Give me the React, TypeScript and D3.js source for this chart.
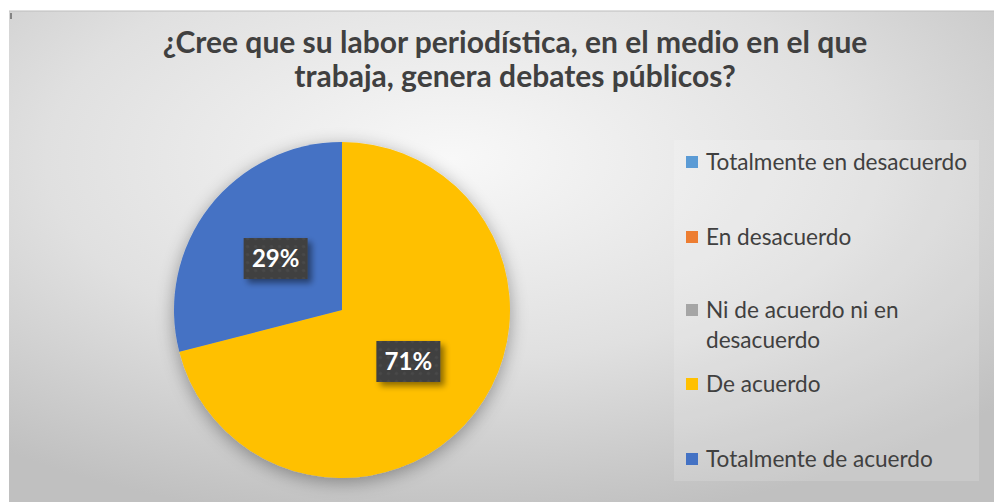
import React from "react";
import * as d3 from "d3";

const categories = [
  "Totalmente en desacuerdo",
  "En desacuerdo",
  "Ni de acuerdo ni en desacuerdo",
  "De acuerdo",
  "Totalmente de acuerdo",
];
const values = [0, 0, 0, 71, 29];
const colors = ["#5B9BD5", "#ED7D31", "#A5A5A5", "#FFC000", "#4472C4"];
const legendLines = [
  ["Totalmente en desacuerdo"],
  ["En desacuerdo"],
  ["Ni de acuerdo ni en", "desacuerdo"],
  ["De acuerdo"],
  ["Totalmente de acuerdo"],
];
const titleLines = [
  "¿Cree que su labor periodística, en el medio en el que",
  "trabaja, genera debates públicos?",
];

const W = 994;
const H = 502;
const FONT = "Lato, 'Open Sans', sans-serif";

export default function App() {
  const cx = 342;
  const cy = 310;
  const R = 168;
  const total = d3.sum(values);
  const pie = d3.pie<number>().sort(null).value((d) => d)(values);
  const arc = d3.arc<d3.PieArcDatum<number>>().innerRadius(0).outerRadius(R);
  const labelArc = d3
    .arc<d3.PieArcDatum<number>>()
    .innerRadius(R * 0.5)
    .outerRadius(R * 0.5);

  const legendYs = [162, 237, 310, 384, 459];

  return (
    <svg
      width={W}
      height={H}
      style={{ position: "absolute", left: 0, top: 0 }}
      xmlns="http://www.w3.org/2000/svg"
    >
      <defs>
        <radialGradient id="bg" cx="45%" cy="30%" r="75%">
          <stop offset="0%" stopColor="#f8f8f8" />
          <stop offset="55%" stopColor="#e0e0e0" />
          <stop offset="100%" stopColor="#c0c0c0" />
        </radialGradient>
        <filter id="pieShadow" x="-20%" y="-20%" width="140%" height="140%">
          <feGaussianBlur in="SourceAlpha" stdDeviation="9" />
          <feOffset dx="0" dy="4" result="b" />
          <feComponentTransfer>
            <feFuncA type="linear" slope="0.35" />
          </feComponentTransfer>
          <feMerge>
            <feMergeNode />
            <feMergeNode in="SourceGraphic" />
          </feMerge>
        </filter>
        <filter id="boxShadow" x="-30%" y="-30%" width="160%" height="160%">
          <feGaussianBlur in="SourceAlpha" stdDeviation="3" />
          <feOffset dx="4" dy="4" />
          <feComponentTransfer>
            <feFuncA type="linear" slope="0.45" />
          </feComponentTransfer>
          <feMerge>
            <feMergeNode />
            <feMergeNode in="SourceGraphic" />
          </feMerge>
        </filter>
        <pattern id="dots" width="8" height="8" patternUnits="userSpaceOnUse">
          <rect width="8" height="8" fill="#404040" />
          <circle cx="4" cy="4" r="1.6" fill="#4a4a4a" />
        </pattern>
      </defs>
      <rect x={0} y={0} width={W} height={H} fill="#ffffff" />
      <rect x={9} y={11} width={W - 9} height={H - 11} fill="url(#bg)" />
      <line x1={9} y1={11} x2={W} y2={11} stroke="#bdbdbd" strokeWidth={1} />
      <line x1={11} y1={13} x2={11} y2={19} stroke="#333" strokeWidth={1} />

      {titleLines.map((t, i) => (
        <text
          key={i}
          x={515}
          y={53 + i * 34}
          textAnchor="middle"
          fontFamily={FONT}
          fontWeight={700}
          fontSize={30}
          fill="#404040"
        >
          {t}
        </text>
      ))}

      <g transform={`translate(${cx},${cy})`} filter="url(#pieShadow)">
        {pie.map((d, i) =>
          d.value > 0 ? (
            <path key={i} d={arc(d) || ""} fill={colors[i]} />
          ) : null
        )}
      </g>

      <g transform={`translate(${cx},${cy})`}>
        {pie.map((d, i) => {
          if (d.value <= 0) return null;
          const [lx, ly] = labelArc.centroid(d);
          const label = `${Math.round((d.value / total) * 100)}%`;
          return (
            <g key={i} transform={`translate(${lx},${ly})`}>
              <rect
                x={-32}
                y={-20.5}
                width={64}
                height={41}
                fill="url(#dots)"
                filter="url(#boxShadow)"
              />
              <text
                x={0}
                y={8.5}
                textAnchor="middle"
                fontFamily={FONT}
                fontWeight={700}
                fontSize={24}
                fill="#ffffff"
              >
                {label}
              </text>
            </g>
          );
        })}
      </g>

      <rect
        x={674}
        y={140}
        width={305}
        height={341}
        fill="#ffffff"
        fillOpacity={0.15}
      />
      {categories.map((c, i) => {
        const y = legendYs[i];
        return (
          <g key={c}>
            <rect x={686} y={y - 6} width={12} height={12} fill={colors[i]} />
            {legendLines[i].map((ln, j) => (
              <text
                key={j}
                x={706}
                y={y + 7.5 + j * 30}
                fontFamily={FONT}
                fontSize={22.6}
                fill="#404040"
              >
                {ln}
              </text>
            ))}
          </g>
        );
      })}
    </svg>
  );
}
